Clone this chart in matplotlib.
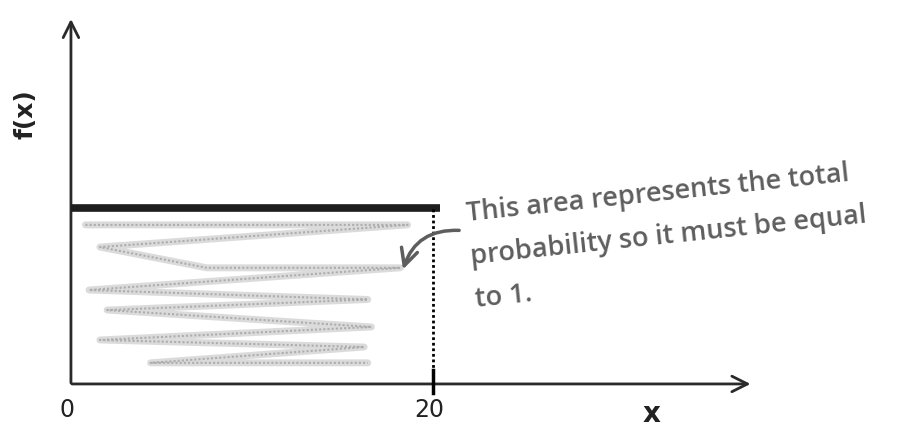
import numpy as np
import matplotlib.pyplot as plt

# uniform density f(x) = 1/20 on [0, 20]
a, b = 0, 20
height = 1 / (b - a)
tick_vals = [0, 20]
tick_labels = ["0", "20"]
note = "This area represents the total\nprobability so it must be equal\nto 1."

# hand scribble inside the rectangle (x, f(x))
scrib_x = [0.8, 18.6, 1.6, 7.5, 18.2, 1.0, 16.4, 2.0, 16.6, 1.6, 16.2, 4.4, 16.4]
scrib_y = [0.0452, 0.0452, 0.0389, 0.0330, 0.0330, 0.0267, 0.0240, 0.0210, 0.0162, 0.0125, 0.0105, 0.0060, 0.0060]

fig = plt.figure(figsize=(9.01, 4.29), dpi=100)
ax = fig.add_axes([0, 0, 1, 1])
ax.set_xlim(-3.92, 45.86)
ax.set_ylim(-0.0128, 0.1091)
ax.axis("off")

axis_col = "#2a2a2a"
# axes with open arrowheads
ax.annotate("", xy=(37.7, 0), xytext=(-0.1, 0),
            arrowprops=dict(arrowstyle="->", lw=2, color=axis_col, mutation_scale=28))
ax.annotate("", xy=(0, 0.1045), xytext=(0, -0.0005),
            arrowprops=dict(arrowstyle="->", lw=2, color=axis_col, mutation_scale=28))

# scribble
ax.plot(scrib_x, scrib_y, color="#c4c4c4", lw=5, alpha=0.6, solid_capstyle="round", zorder=2)
ax.plot(scrib_x, scrib_y, color="#8f8f8f", lw=1.5, alpha=0.6, linestyle=(0, (1, 1)), zorder=2)

# density line and dotted edge
ax.plot([a, b + 0.4], [height, height], color="#1e1e1e", lw=5.5, solid_capstyle="butt", zorder=3)
ax.plot([b, b], [0, height], color="black", lw=2, linestyle=(0, (1, 1)), zorder=3)
ax.plot([b, b], [-0.0025, 0.004], color="black", lw=2.5, zorder=3)

for v, lab in zip(tick_vals, tick_labels):
    ax.text(v - 0.2, -0.004, lab, ha="center", va="top", fontsize=17,
            family="Liberation Sans Narrow", color="#222222")

ax.text(32.1, -0.0045, "x", ha="center", va="top", fontsize=20, fontweight="bold", color="#222222")
ax.text(-2.5, 0.0767, "f(x)", ha="center", va="center", rotation=90, fontsize=18,
        fontweight="bold", color="#222222")

# note with curved arrow
note_col = "#5e5e5e"
ax.text(22.3, 0.0262, note, ha="left", va="baseline", rotation=6, rotation_mode="anchor",
        fontsize=19.5, color=note_col, family="Open Sans", fontweight="semibold",
        linespacing=1.72)
ax.annotate("", xy=(18.3, 0.0318), xytext=(21.6, 0.0436),
            arrowprops=dict(arrowstyle="->", lw=2.5, color=note_col, mutation_scale=30,
                            connectionstyle="arc3,rad=0.4"))

fig.savefig("out.png", dpi=100)
